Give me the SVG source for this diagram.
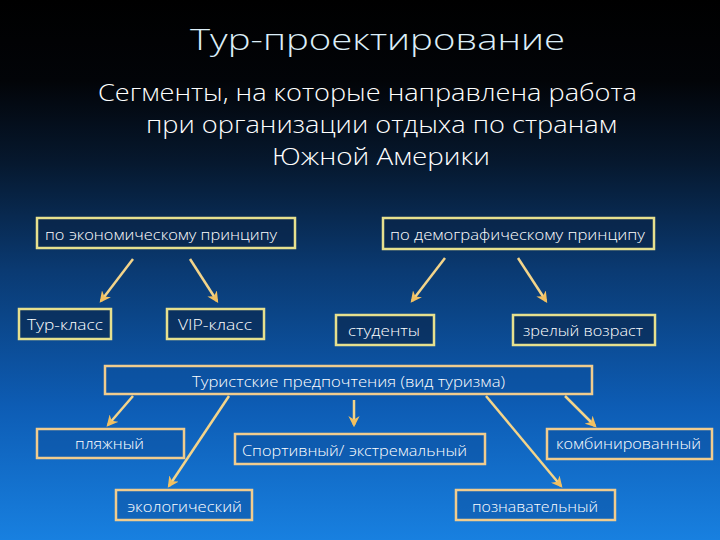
<svg xmlns="http://www.w3.org/2000/svg" width="720" height="540" viewBox="0 0 720 540">
<defs>
<linearGradient id="bg" x1="0" y1="0" x2="0" y2="1">
<stop offset="0" stop-color="#000000"/>
<stop offset="0.15" stop-color="#020408"/>
<stop offset="0.3" stop-color="#06182e"/>
<stop offset="0.5" stop-color="#0a3a72"/>
<stop offset="0.75" stop-color="#0d5cb4"/>
<stop offset="1" stop-color="#1880e0"/>
</linearGradient>
<marker id="ah" viewBox="0 0 10 10" refX="8" refY="5" markerWidth="4.5" markerHeight="4.5" orient="auto" markerUnits="strokeWidth">
<path d="M0,0 L10,5 L0,10 L3,5 z" fill="#f2c060"/>
</marker>
<style>
.t{font-family:"Open Sans","Noto Sans","DejaVu Sans",sans-serif;fill:#ffffff;font-weight:300}
.bx{font-size:15px}
.up{fill:#0a2448;fill-opacity:0.6;stroke:#e6e08e;stroke-width:2.5}
.lo{fill:#0b4f9e;fill-opacity:0.5;stroke:#f0cc8e;stroke-width:2.5}
.ar{stroke:#f3d48a;stroke-width:2.5;fill:none;marker-end:url(#ah)}
</style>
</defs>
<rect width="720" height="540" fill="url(#bg)"/>
<text class="t" x="190" y="50" font-size="30" style="fill:#dceef8" textLength="375" lengthAdjust="spacingAndGlyphs">Тур-проектирование</text>
<text class="t" x="98" y="101" font-size="24" textLength="539" lengthAdjust="spacingAndGlyphs">Сегменты, на которые направлена работа</text>
<text class="t" x="146" y="133" font-size="24" textLength="471" lengthAdjust="spacingAndGlyphs">при организации отдыха по странам</text>
<text class="t" x="272" y="165" font-size="24" textLength="218" lengthAdjust="spacingAndGlyphs">Южной Америки</text>

<g id="connectors">
<line class="ar" x1="133" y1="259" x2="101" y2="301"/>
<line class="ar" x1="190" y1="259" x2="217" y2="301"/>
<line class="ar" x1="445" y1="258" x2="412" y2="301"/>
<line class="ar" x1="518" y1="258" x2="546" y2="301"/>
<line class="ar" x1="133" y1="396" x2="108" y2="425"/>
<line class="ar" x1="229" y1="396" x2="169" y2="486"/>
<line class="ar" x1="354" y1="400" x2="354" y2="425"/>
<line class="ar" x1="486" y1="396" x2="561" y2="486"/>
<line class="ar" x1="565" y1="396" x2="595" y2="426"/>
</g>

<g id="n-econ"><rect class="up" x="37" y="218" width="258" height="30"/><text class="t bx" x="45" y="240" textLength="232" lengthAdjust="spacingAndGlyphs">по экономическому принципу</text></g>
<g id="n-demo"><rect class="up" x="383" y="218" width="271" height="31"/><text class="t bx" x="390" y="240" textLength="255" lengthAdjust="spacingAndGlyphs">по демографическому принципу</text></g>
<g id="n-tur"><rect class="up" x="19" y="309" width="92" height="30"/><text class="t bx" x="27" y="330" textLength="76" lengthAdjust="spacingAndGlyphs">Тур-класс</text></g>
<g id="n-vip"><rect class="up" x="167" y="309" width="97" height="30"/><text class="t bx" x="178" y="330" textLength="74" lengthAdjust="spacingAndGlyphs">VIP-класс</text></g>
<g id="n-stud"><rect class="up" x="336" y="315" width="98" height="30"/><text class="t bx" x="348" y="336" textLength="72" lengthAdjust="spacingAndGlyphs">студенты</text></g>
<g id="n-age"><rect class="up" x="513" y="315" width="142" height="30"/><text class="t bx" x="523" y="336" textLength="120" lengthAdjust="spacingAndGlyphs">зрелый возраст</text></g>
<g id="n-pref"><rect class="lo" x="105" y="366" width="487" height="28"/><text class="t bx" x="192" y="387" textLength="313" lengthAdjust="spacingAndGlyphs">Туристские предпочтения (вид туризма)</text></g>
<g id="n-beach"><rect class="lo" x="37" y="429" width="147" height="29"/><text class="t bx" x="75" y="449" textLength="69" lengthAdjust="spacingAndGlyphs">пляжный</text></g>
<g id="n-sport"><rect class="lo" x="235" y="434" width="250" height="30"/><text class="t bx" x="242" y="456" textLength="225" lengthAdjust="spacingAndGlyphs">Спортивный/ экстремальный</text></g>
<g id="n-eco"><rect class="lo" x="116" y="490" width="136" height="30"/><text class="t bx" x="127" y="512" textLength="115" lengthAdjust="spacingAndGlyphs">экологический</text></g>
<g id="n-comb"><rect class="lo" x="547" y="429" width="165" height="30"/><text class="t bx" x="556" y="449" textLength="145" lengthAdjust="spacingAndGlyphs">комбинированный</text></g>
<g id="n-cogn"><rect class="lo" x="456" y="490" width="159" height="30"/><text class="t bx" x="472" y="512" textLength="126" lengthAdjust="spacingAndGlyphs">познавательный</text></g>
</svg>
